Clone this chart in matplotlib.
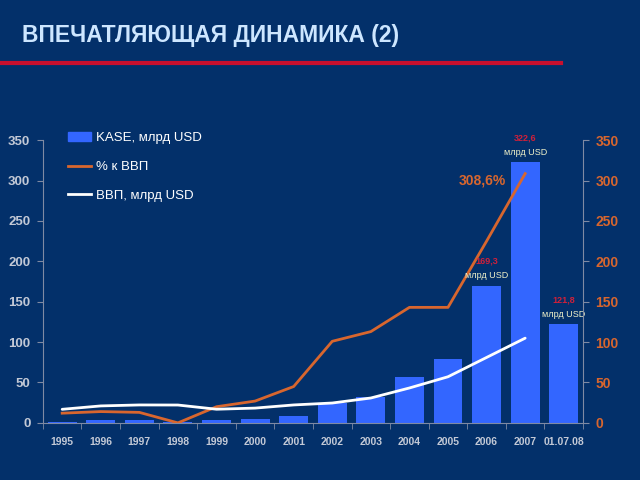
import numpy as np
import matplotlib
matplotlib.use("Agg")
import matplotlib.pyplot as plt
from matplotlib.patches import Patch
from matplotlib.lines import Line2D

# Data
years = ["1995", "1996", "1997", "1998", "1999", "2000", "2001", "2002",
         "2003", "2004", "2005", "2006", "2007", "01.07.08"]
kase = [0.5, 3, 3, 1, 3, 5, 9, 24, 32, 57, 79, 169.3, 322.6, 121.8]
pct_gdp = [12, 14, 13, 0, 20, 27, 45, 101, 113, 143, 143, 225, 308.6]
gdp = [16.8, 21.0, 22.2, 22.1, 16.9, 18.3, 22.2, 24.6, 30.8, 43.2, 57.1, 81.0, 104.9]
bar_notes = {11: "169,3", 12: "322,6", 13: "121,8"}

bg = '#03306a'
bar_c = '#3366ff'
orange = '#d8662e'
grey = '#c3c9d6'
spine_c = '#7f8aa3'

plt.rcParams['font.family'] = ['Liberation Sans', 'DejaVu Sans']

fig = plt.figure(figsize=(6.4, 4.8), dpi=100, facecolor=bg)
ax = fig.add_axes([0.067, 0.119, 0.844, 0.589])
ax.set_facecolor(bg)
x = np.arange(len(years))

ax.bar(x, kase, width=0.75, color=bar_c, zorder=2)
ax.plot(x[:len(pct_gdp)], pct_gdp, color=orange, lw=2, zorder=3)
ax.plot(x[:len(gdp)], gdp, color='white', lw=2, zorder=3, solid_capstyle='round')

ax.set_xlim(-0.5, len(years) - 0.5)
ax.set_ylim(0, 350)
ax.set_yticks(range(0, 351, 50))
ax.set_xticks(x)
ax.set_xticklabels(years)
ax.tick_params(axis='x', length=0, pad=10, labelsize=7.5, labelcolor=grey)
ax.set_xticks(np.arange(-0.5, len(years), 1), minor=True)
ax.tick_params(axis='x', which='minor', length=4, color=spine_c, direction='out')
ax.tick_params(axis='y', length=4, color=spine_c, labelsize=9.5, labelcolor=grey, pad=5)
for lbl in ax.get_xticklabels() + ax.get_yticklabels():
    lbl.set_fontweight('bold')

ax2 = ax.twinx()
ax2.set_ylim(0, 350)
ax2.set_yticks(range(0, 351, 50))
ax2.tick_params(axis='y', length=4, color=spine_c, labelsize=10, labelcolor=orange, pad=5)
for lbl in ax2.get_yticklabels():
    lbl.set_fontweight('bold')

for a in (ax, ax2):
    a.spines['top'].set_visible(False)
    for s in ('left', 'right', 'bottom'):
        a.spines[s].set_color(spine_c)
ax.spines['right'].set_visible(False)
ax2.spines['left'].set_visible(False)
ax2.spines['bottom'].set_visible(False)

# bar value notes
for i, txt in bar_notes.items():
    ax.text(i, kase[i] + 7, "млрд USD", ha='center', va='bottom',
            color='#eef0c8', fontsize=6.5)
    ax.text(i, kase[i] + 25, txt, ha='center', va='bottom',
            color='#d0203a', fontsize=6.5, fontweight='bold')
ax.text(11.5, 300, "308,6%", ha='right', va='center',
        color=orange, fontsize=10, fontweight='bold')

handles = [Patch(color=bar_c), Line2D([], [], color=orange, lw=2),
           Line2D([], [], color='white', lw=2)]
leg = ax.legend(handles, ["KASE, млрд USD", "% к ВВП", "ВВП, млрд USD"],
                loc='upper left', bbox_to_anchor=(0.025, 1.07), frameon=False,
                labelcolor='white', fontsize=9.5, labelspacing=1.25,
                handlelength=1.7, handletextpad=0.4)

# title and red rule
fig.text(0.034, 0.927, "ВПЕЧАТЛЯЮЩАЯ ДИНАМИКА (2)", color='#cde6ff',
         fontsize=16.5, fontweight='bold', va='center')
fig.add_artist(Line2D([0, 0.876], [0.869, 0.869], color='#c8102e', lw=3,
                      transform=fig.transFigure))

fig.savefig('out.png', dpi=100, facecolor=bg)
